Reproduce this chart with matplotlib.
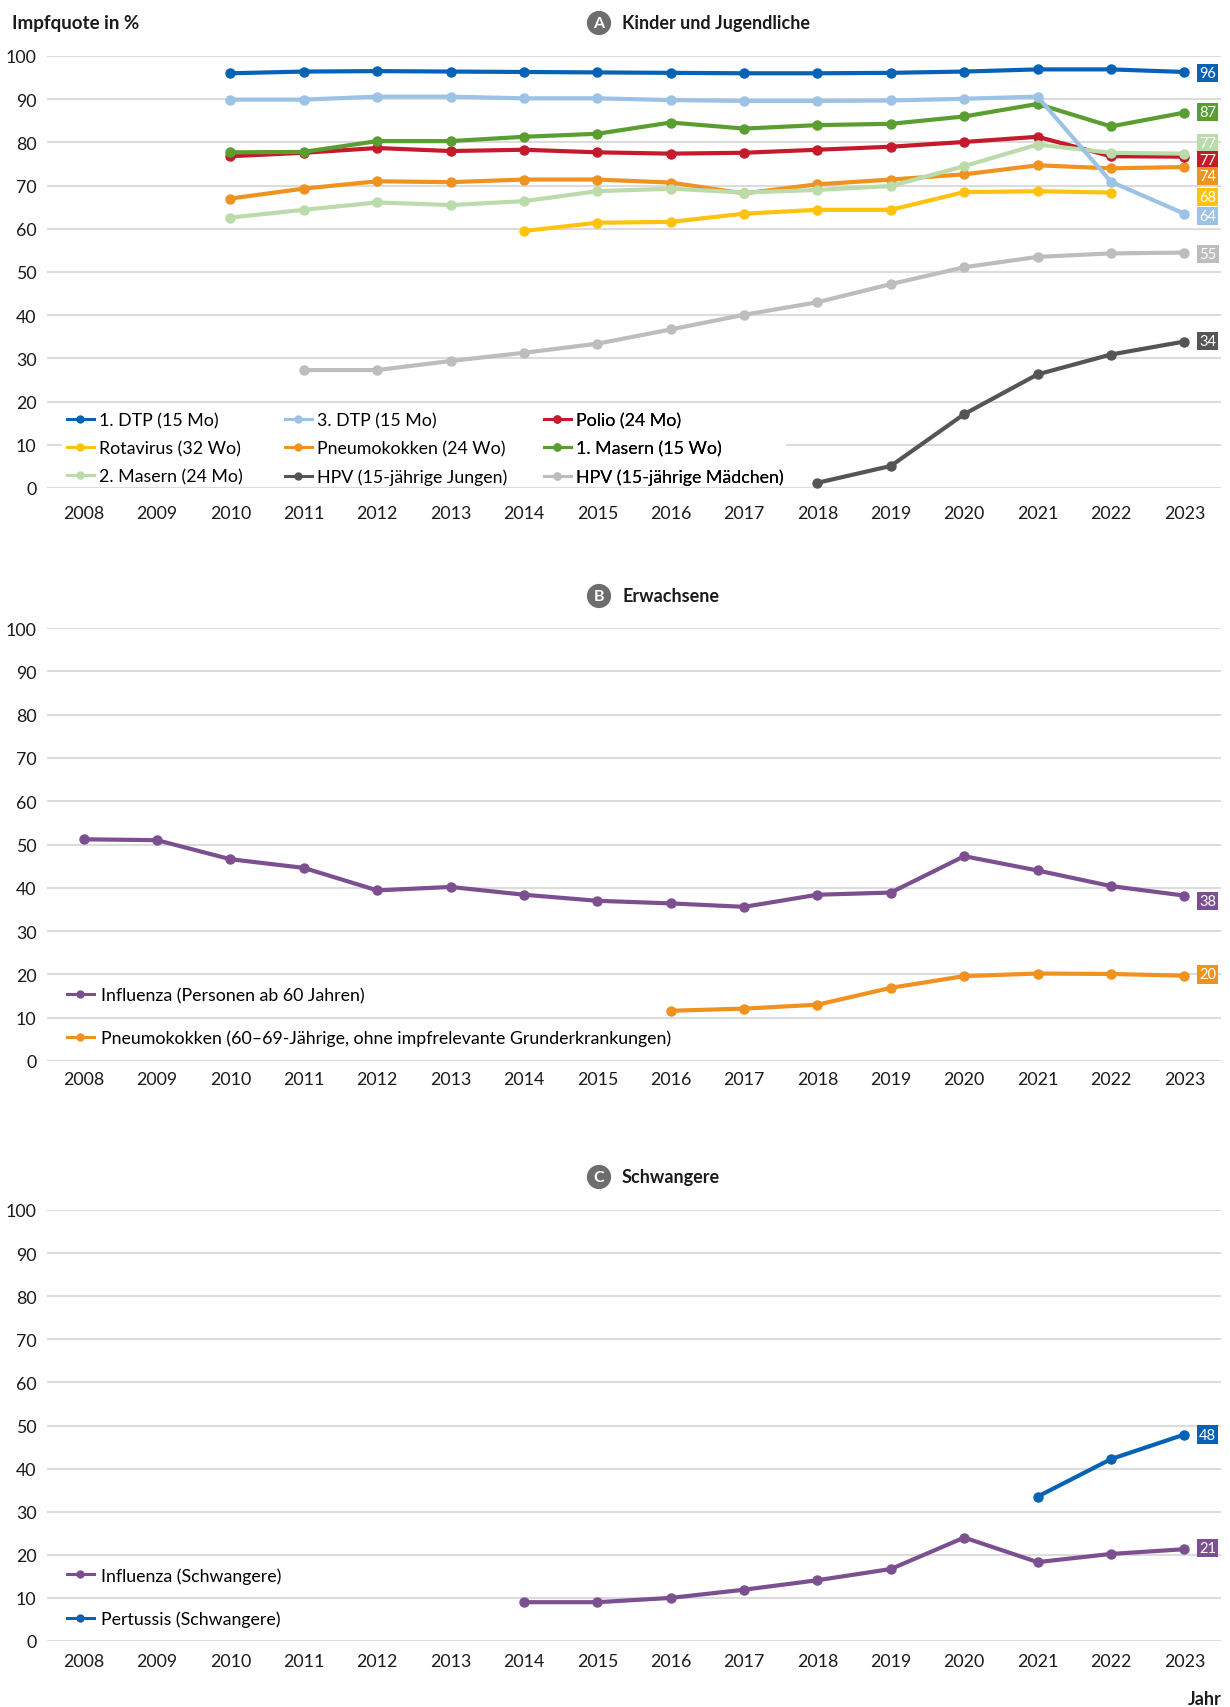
import matplotlib.pyplot as plt
from matplotlib.lines import Line2D

plt.rcParams['font.family'] = ['Lato', 'DejaVu Sans']

W, H = 1230, 1708
years = list(range(2008, 2024))

# --- A: Kinder und Jugendliche ---
dtp1_years = list(range(2010, 2024))
dtp1 = [96.0, 96.4, 96.5, 96.4, 96.3, 96.2, 96.1, 96.0, 96.0, 96.1, 96.4, 96.9, 96.9, 96.3]
dtp3_years = list(range(2010, 2024))
dtp3 = [89.9, 89.9, 90.6, 90.6, 90.2, 90.2, 89.8, 89.6, 89.6, 89.7, 90.1, 90.6, 70.9, 63.5]
polio_years = list(range(2010, 2024))
polio = [76.8, 77.6, 78.7, 78.0, 78.3, 77.7, 77.4, 77.6, 78.3, 79.0, 80.1, 81.3, 76.8, 76.7]
masern1_years = list(range(2010, 2024))
masern1 = [77.7, 77.8, 80.3, 80.3, 81.3, 82.0, 84.6, 83.2, 84.0, 84.3, 86.0, 88.9, 83.7, 86.9]
pneumo_years = list(range(2010, 2024))
pneumo = [67.0, 69.3, 71.0, 70.8, 71.4, 71.4, 70.7, 68.2, 70.3, 71.4, 72.6, 74.7, 74.0, 74.3]
masern2_years = list(range(2010, 2024))
masern2 = [62.6, 64.4, 66.1, 65.5, 66.4, 68.7, 69.3, 68.4, 69.0, 69.9, 74.5, 79.5, 77.6, 77.4]
rota_years = list(range(2014, 2023))
rota = [59.5, 61.4, 61.6, 63.5, 64.4, 64.4, 68.5, 68.7, 68.4]
hpv_m_years = list(range(2011, 2024))
hpv_m = [27.3, 27.3, 29.4, 31.3, 33.4, 36.7, 40.1, 43.0, 47.2, 51.1, 53.5, 54.3, 54.5]
hpv_j_years = list(range(2018, 2024))
hpv_j = [1.2, 5.1, 17.1, 26.3, 30.9, 33.9]

# --- B: Erwachsene ---
flu60_years = list(range(2008, 2024))
flu60 = [51.2, 51.0, 46.6, 44.6, 39.4, 40.2, 38.4, 37.0, 36.4, 35.6, 38.4, 38.9, 47.3, 44.0, 40.4, 38.2]
pneumo60_years = list(range(2016, 2024))
pneumo60 = [11.6, 12.1, 13.0, 16.9, 19.6, 20.2, 20.1, 19.7]

# --- C: Schwangere ---
flu_sw_years = list(range(2014, 2024))
flu_sw = [9.0, 9.0, 10.0, 11.9, 14.1, 16.7, 24.0, 18.3, 20.2, 21.3]
pert_sw_years = [2021, 2022, 2023]
pert_sw = [33.5, 42.2, 47.9]

c_dblue = '#0562b5'
c_lblue = '#9cc2e6'
c_red = '#c41a2b'
c_green = '#5a9d30'
c_orange = '#ef921f'
c_lgreen = '#bbdbab'
c_yellow = '#fec20f'
c_lgray = '#bdbdbd'
c_dgray = '#555555'
c_purple = '#7c5090'
c_grid = '#dcdcdc'

fig = plt.figure(figsize=(W / 100, H / 100), dpi=100)


def px_axes(top, bottom, left=47, right=1221):
    return fig.add_axes([left / W, 1 - bottom / H, (right - left) / W, (bottom - top) / H])


def style(ax, xpad):
    ax.set_xlim(2007.5, 2023.5)
    ax.set_ylim(0, 100)
    ax.set_yticks(range(0, 101, 10))
    ax.set_xticks(years)
    ax.set_xticklabels([str(y) for y in years])
    ax.grid(axis='y', color=c_grid, lw=1.5)
    ax.grid(axis='x', visible=False)
    ax.set_axisbelow(True)
    for s in ax.spines.values():
        s.set_visible(False)
    ax.tick_params(axis='both', length=0, labelsize=12.8, colors='#1a1a1a')
    ax.tick_params(axis='x', pad=xpad)
    ax.tick_params(axis='y', pad=7.6)


def draw(ax, x, y, color, z=3):
    ax.plot(x, y, color=color, lw=3, marker='o', ms=6.5, zorder=z, clip_on=False)


def vlabel(ax, y, s, color):
    ax.text(2023.32, y, s, color='white', fontsize=10.5, ha='center', va='center',
            clip_on=False, zorder=6,
            bbox=dict(boxstyle='square,pad=0.15', fc=color, ec='none'))


def badge(cy, letter, title):
    fig.text(599 / W, 1 - cy / H, letter, color='white', fontsize=11.5, fontweight='bold',
             ha='center', va='center',
             bbox=dict(boxstyle='circle,pad=0.32', fc='#6d6d6d', ec='none'))
    fig.text(622 / W, 1 - cy / H, title, fontsize=13, fontweight='bold', ha='left', va='center',
             color='#1a1a1a')


def handle(color):
    return Line2D([], [], color=color, lw=2.2, marker='o', ms=5)


# Panel A
axA = px_axes(57, 489)
style(axA, 12)
draw(axA, hpv_m_years, hpv_m, c_lgray)
draw(axA, hpv_j_years, hpv_j, c_dgray)
draw(axA, rota_years, rota, c_yellow)
draw(axA, pneumo_years, pneumo, c_orange)
draw(axA, polio_years, polio, c_red)
draw(axA, masern2_years, masern2, c_lgreen)
draw(axA, masern1_years, masern1, c_green)
draw(axA, dtp3_years, dtp3, c_lblue)
draw(axA, dtp1_years, dtp1, c_dblue)

vlabel(axA, 96.1, '96', c_dblue)
vlabel(axA, 87.0, '87', c_green)
vlabel(axA, 79.9, '77', c_lgreen)
vlabel(axA, 75.9, '77', c_red)
vlabel(axA, 72.2, '74', c_orange)
vlabel(axA, 67.3, '68', c_yellow)
vlabel(axA, 63.0, '64', c_lblue)
vlabel(axA, 54.2, '55', c_lgray)
vlabel(axA, 34.1, '34', c_dgray)

# white background behind the legend
axA.add_patch(plt.Rectangle((2007.71, 1.0), 9.86, 15.5, fc='white', ec='none', zorder=2))

legA = [
    [('1. DTP (15 Mo)', c_dblue), ('Rotavirus (32 Wo)', c_yellow), ('2. Masern (24 Mo)', c_lgreen)],
    [('3. DTP (15 Mo)', c_lblue), ('Pneumokokken (24 Wo)', c_orange), ('HPV (15-jährige Jungen)', c_dgray)],
    [('Polio (24 Mo)', c_red), ('1. Masern (15 Wo)', c_green), ('HPV (15-jährige Mädchen)', c_lgray)],
]
col_x = [67, 285, 544]
for entries, cx in zip(legA, col_x):
    lg = axA.legend([handle(c) for _, c in entries], [t for t, _ in entries],
                    loc='upper left', bbox_to_anchor=(cx / W, 1 - 413 / H),
                    bbox_transform=fig.transFigure, frameon=False, fontsize=12.8,
                    borderpad=0, borderaxespad=0, handlelength=1.5, handletextpad=0.3,
                    labelspacing=0.68)
    lg.set_zorder(5)
    axA.add_artist(lg)

fig.text(12 / W, 1 - 24 / H, 'Impfquote in %', fontsize=13.5, fontweight='bold',
         ha='left', va='center', color='#1a1a1a')
badge(24, 'A', 'Kinder und Jugendliche')

# Panel B
axB = px_axes(629, 1062)
style(axB, 7)
draw(axB, pneumo60_years, pneumo60, c_orange)
draw(axB, flu60_years, flu60, c_purple)
vlabel(axB, 37.0, '38', c_purple)
vlabel(axB, 20.0, '20', c_orange)
lgB = axB.legend([handle(c_purple), handle(c_orange)],
                 ['Influenza (Personen ab 60 Jahren)',
                  'Pneumokokken (60–69-Jährige, ohne impfrelevante Grunderkrankungen)'],
                 loc='upper left', bbox_to_anchor=(67 / W, 1 - 988 / H),
                 bbox_transform=fig.transFigure, frameon=False, fontsize=12.8,
                 borderpad=0, borderaxespad=0, handlelength=1.5, handletextpad=0.4,
                 labelspacing=1.5)
badge(597, 'B', 'Erwachsene')

# Panel C
axC = px_axes(1211, 1642)
style(axC, 9)
draw(axC, flu_sw_years, flu_sw, c_purple)
draw(axC, pert_sw_years, pert_sw, c_dblue)
vlabel(axC, 47.9, '48', c_dblue)
vlabel(axC, 21.6, '21', c_purple)
lgC = axC.legend([handle(c_purple), handle(c_dblue)],
                 ['Influenza (Schwangere)', 'Pertussis (Schwangere)'],
                 loc='upper left', bbox_to_anchor=(67 / W, 1 - 1568 / H),
                 bbox_transform=fig.transFigure, frameon=False, fontsize=12.8,
                 borderpad=0, borderaxespad=0, handlelength=1.5, handletextpad=0.4,
                 labelspacing=1.5)
badge(1178, 'C', 'Schwangere')

fig.text(1222 / W, 1 - 1700 / H, 'Jahr', fontsize=13, fontweight='bold',
         ha='right', va='center', color='#1a1a1a')

fig.savefig('out.png', dpi=100, facecolor='white')
